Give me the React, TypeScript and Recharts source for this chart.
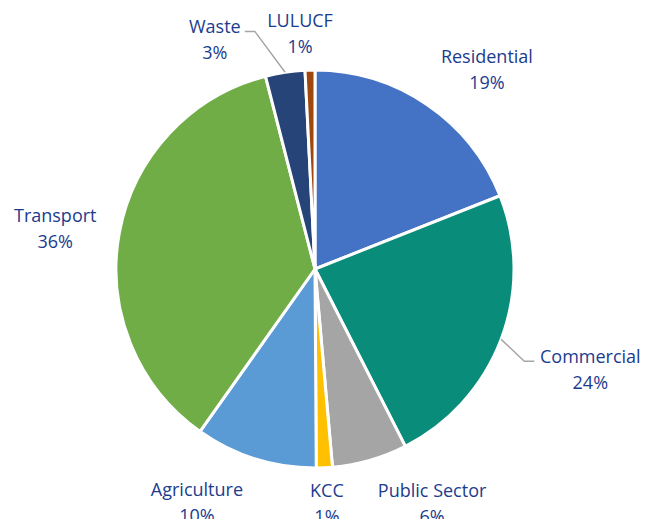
import { PieChart, Pie, Cell } from 'recharts';

const sectors = ['Residential', 'Commercial', 'Public Sector', 'KCC', 'Agriculture', 'Transport', 'Waste', 'LULUCF'];
const shares = [19, 23.5, 6.1, 1.3, 9.9, 36.2, 3.2, 0.8];
const colors = ['#4472C4', '#0A8C7A', '#A5A5A5', '#FFC000', '#5B9BD5', '#70AD47', '#264478', '#9E480E'];

// label placement: distance of first baseline from centre, angle shift from slice middle
const labelLayout = [
  { r: 268, shift: -5.7, leader: '' },
  { r: 291, shift: 1.8, leader: 'left' },
  { r: 256, shift: 11.2, leader: '' },
  { r: 228, shift: 0.3, leader: '' },
  { r: 256, shift: -10, leader: '' },
  { r: 264, shift: 0.15, leader: '' },
  { r: 256, shift: 14.4, leader: 'right' },
  { r: 242, shift: 2.1, leader: '' },
];

const data = sectors.map((name, i) => ({ name, value: shares[i] }));

const RAD = Math.PI / 180;
const textColor = '#1B3C8E';
const font = "'Open Sans', sans-serif";

function renderLabel(props: any) {
  const { cx, cy, midAngle, outerRadius, index, name, percent } = props;
  const lay = labelLayout[index];
  const a = (midAngle + lay.shift) * RAD;
  const x = cx + lay.r * Math.cos(a);
  const y = cy - lay.r * Math.sin(a);
  const pct = `${Math.round(percent * 100)}%`;
  let leader = null;
  if (lay.leader) {
    const ex = cx + outerRadius * Math.cos(midAngle * RAD);
    const ey = cy - outerRadius * Math.sin(midAngle * RAD);
    const halfW = name.length * 5.2;
    const ly = y - 2;
    const endX = lay.leader === 'left' ? x - halfW - 4 : x + halfW + 4;
    const elbowX = lay.leader === 'left' ? endX - 10 : endX + 10;
    leader = (
      <polyline
        points={`${ex},${ey} ${elbowX},${ly} ${endX},${ly}`}
        fill="none"
        stroke="#A6A6A6"
        strokeWidth={1.5}
      />
    );
  }
  return (
    <g>
      {leader}
      <text x={x} y={y} textAnchor="middle" fill={textColor} fontSize={18} fontFamily={font}>
        {name}
      </text>
      <text x={x} y={y + 26} textAnchor="middle" fill={textColor} fontSize={18} fontFamily={font}>
        {pct}
      </text>
    </g>
  );
}

export default function App() {
  return (
    <div style={{ position: 'absolute', left: 0, top: 0, width: 645, height: 519, background: '#fff' }}>
      <PieChart width={645} height={519} margin={{ top: 0, right: 0, bottom: 0, left: 0 }}>
        <Pie
          data={data}
          dataKey="value"
          nameKey="name"
          cx={315}
          cy={269}
          outerRadius={199}
          startAngle={90}
          endAngle={-270}
          stroke="#fff"
          strokeWidth={3}
          label={renderLabel}
          labelLine={false}
          isAnimationActive={false}
        >
          {data.map((entry, i) => (
            <Cell key={`cell-${i}`} fill={colors[i]} />
          ))}
        </Pie>
      </PieChart>
    </div>
  );
}
